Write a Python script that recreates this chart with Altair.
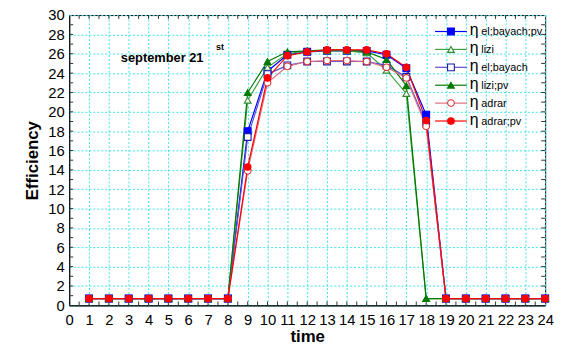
import altair as alt
import pandas as pd

hours = [1, 2, 3, 4, 5, 6, 7, 8, 9, 10, 11, 12, 13, 14, 15, 16, 17, 18, 19, 20, 21, 22, 23, 24]

series_names = ["η el;bayach;pv", "η lizi", "η el;bayach", "η lizi;pv", "η adrar", "η adrar;pv"]
legend_symbol = ["η", "η", "η", "η", "η", "η"]
legend_subs = ["el;bayach;pv", "lizi", "el;bayach", "lizi;pv", "adrar", "adrar;pv"]

bayach_pv = [0.7, 0.7, 0.7, 0.7, 0.7, 0.7, 0.7, 0.7, 18.0, 24.2, 25.9, 26.2, 26.3, 26.3, 26.3, 25.9, 24.5, 19.7, 0.7, 0.7, 0.7, 0.7, 0.7, 0.7]
lizi = [0.7, 0.7, 0.7, 0.7, 0.7, 0.7, 0.7, 0.7, 21.2, 24.6, 26.0, 26.3, 26.3, 26.3, 26.1, 24.3, 21.9, 0.7, 0.7, 0.7, 0.7, 0.7, 0.7, 0.7]
bayach = [0.7, 0.7, 0.7, 0.7, 0.7, 0.7, 0.7, 0.7, 17.4, 23.9, 24.8, 25.2, 25.2, 25.2, 25.2, 24.8, 23.6, 18.8, 0.7, 0.7, 0.7, 0.7, 0.7, 0.7]
lizi_pv = [0.7, 0.7, 0.7, 0.7, 0.7, 0.7, 0.7, 0.7, 22.0, 25.2, 26.2, 26.3, 26.4, 26.4, 26.2, 25.4, 22.7, 0.7, 0.7, 0.7, 0.7, 0.7, 0.7, 0.7]
adrar = [0.7, 0.7, 0.7, 0.7, 0.7, 0.7, 0.7, 0.7, 13.9, 23.0, 24.7, 25.2, 25.3, 25.3, 25.2, 24.6, 23.5, 18.5, 0.7, 0.7, 0.7, 0.7, 0.7, 0.7]
adrar_pv = [0.7, 0.7, 0.7, 0.7, 0.7, 0.7, 0.7, 0.7, 14.3, 23.5, 25.8, 26.2, 26.4, 26.4, 26.4, 26.0, 24.6, 19.1, 0.7, 0.7, 0.7, 0.7, 0.7, 0.7]

x_ticks = [0, 1, 2, 3, 4, 5, 6, 7, 8, 9, 10, 11, 12, 13, 14, 15, 16, 17, 18, 19, 20, 21, 22, 23, 24]
y_ticks = [0, 2, 4, 6, 8, 10, 12, 14, 16, 18, 20, 22, 24, 26, 28, 30]
x_minor_ticks = [i / 2 for i in range(1, 48)]
y_minor_ticks = list(range(1, 30))

annotation_text = ["september 21"]
annotation_sup = ["st"]

line_colors = ["#0000ff", "#3f9f3f", "#5a4ed0", "#007a00", "#e07080", "#ff0000"]
stroke_colors = ["#0000ff", "#2e8b2e", "#1a1aa8", "#007a00", "#e03030", "#ff0000"]
fill_colors = ["#0000ff", "#ffffff", "#ffffff", "#007a00", "#ffffff", "#ff0000"]
marker_shapes = ["square", "triangle-up", "square", "triangle-up", "circle", "circle"]
marker_sizes = [48, 45, 42, 45, 30, 30]

rows = []
for name, vals in zip(series_names, [bayach_pv, lizi, bayach, lizi_pv, adrar, adrar_pv]):
    for h, v in zip(hours, vals):
        rows.append({"hour": h, "eff": v, "series": name})
df = pd.DataFrame(rows)

legend_df = pd.DataFrame({
    "series": series_names,
    "idx": list(range(len(series_names))),
    "sym": legend_symbol,
    "sub": legend_subs,
})

FONT = "Liberation Sans"

x_scale = alt.Scale(domain=[0, 24], nice=False)
y_scale = alt.Scale(domain=[0, 30], nice=False)
x_axis = alt.Axis(values=x_ticks, title="time", labelPadding=7, titlePadding=2, format="d")
y_axis = alt.Axis(values=y_ticks, title="Efficiency", labelPadding=5, titlePadding=6, format="d")

x = alt.X("hour:Q", scale=x_scale, axis=x_axis)
y = alt.Y("eff:Q", scale=y_scale, axis=y_axis)

color_enc = alt.Color("series:N", scale=alt.Scale(domain=series_names, range=line_colors), legend=None)
shape_enc = alt.Shape("series:N", scale=alt.Scale(domain=series_names, range=marker_shapes), legend=None)
fill_enc = alt.Fill("series:N", scale=alt.Scale(domain=series_names, range=fill_colors), legend=None)
stroke_enc = alt.Stroke("series:N", scale=alt.Scale(domain=series_names, range=stroke_colors), legend=None)
size_enc = alt.Size("series:N", scale=alt.Scale(domain=series_names, range=marker_sizes), legend=None)

# small inward ticks on the four sides of the frame
xt_df = pd.DataFrame({"t": x_minor_ticks})
yt_df = pd.DataFrame({"t": y_minor_ticks})
tick_style = dict(color="#333333", strokeWidth=1)
ticks_bottom = alt.Chart(xt_df).mark_rule(**tick_style).encode(
    x=alt.X("t:Q", scale=x_scale, axis=x_axis),
    y=alt.YDatum(0, type="quantitative", scale=y_scale, axis=y_axis),
    y2=alt.Y2Datum(0.4),
)
ticks_top = alt.Chart(xt_df).mark_rule(**tick_style).encode(
    x=alt.X("t:Q", scale=x_scale, axis=x_axis),
    y=alt.YDatum(30, type="quantitative", scale=y_scale, axis=y_axis),
    y2=alt.Y2Datum(29.6),
)
ticks_left = alt.Chart(yt_df).mark_rule(**tick_style).encode(
    y=alt.Y("t:Q", scale=y_scale, axis=y_axis),
    x=alt.XDatum(0, type="quantitative", scale=x_scale, axis=x_axis),
    x2=alt.X2Datum(0.2),
)
ticks_right = alt.Chart(yt_df).mark_rule(**tick_style).encode(
    y=alt.Y("t:Q", scale=y_scale, axis=y_axis),
    x=alt.XDatum(24, type="quantitative", scale=x_scale, axis=x_axis),
    x2=alt.X2Datum(23.8),
)

lines = alt.Chart(df).mark_line(strokeWidth=1.2).encode(
    x=x, y=y, color=color_enc, order="hour:Q"
)

points = alt.Chart(df).mark_point(filled=True, opacity=1, strokeWidth=1.1).encode(
    x=x, y=y, shape=shape_enc, fill=fill_enc, stroke=stroke_enc, size=size_enc
)

# hand-made legend in the upper right corner, rows laid out from the series index
legend_base = alt.Chart(legend_df).transform_calculate(
    ly="28.3 - datum.idx * 1.85",
    lx1="18.45",
    lx2="20.05",
    lm="19.25",
    lt="20.2",
    ls="20.78",
)
legend_lines = legend_base.mark_rule(strokeWidth=1.2).encode(
    x=alt.X("lx1:Q", scale=x_scale, axis=x_axis),
    x2="lx2:Q",
    y=alt.Y("ly:Q", scale=y_scale, axis=y_axis),
    color=color_enc,
)
legend_points = legend_base.mark_point(filled=True, opacity=1, strokeWidth=1.1).encode(
    x=alt.X("lm:Q", scale=x_scale, axis=x_axis),
    y=alt.Y("ly:Q", scale=y_scale, axis=y_axis),
    shape=shape_enc, fill=fill_enc, stroke=stroke_enc, size=size_enc,
)
legend_eta = legend_base.mark_text(
    align="left", baseline="middle", font=FONT, fontSize=16, color="black", dy=-1
).encode(
    x=alt.X("lt:Q", scale=x_scale, axis=x_axis),
    y=alt.Y("ly:Q", scale=y_scale, axis=y_axis),
    text="sym:N",
)
legend_sub = legend_base.mark_text(
    align="left", baseline="middle", font=FONT, fontSize=11, color="black", dy=1
).encode(
    x=alt.X("ls:Q", scale=x_scale, axis=x_axis),
    y=alt.Y("ly:Q", scale=y_scale, axis=y_axis),
    text="sub:N",
)

ann = (
    alt.Chart(pd.DataFrame({"label": annotation_text}))
    .mark_text(align="left", baseline="middle", font=FONT, fontSize=13, fontWeight="bold", color="black")
    .encode(
        x=alt.XDatum(2.6, type="quantitative", scale=x_scale, axis=x_axis),
        y=alt.YDatum(25.6, type="quantitative", scale=y_scale, axis=y_axis),
        text="label:N",
    )
)
ann_sup = (
    alt.Chart(pd.DataFrame({"label": annotation_sup}))
    .mark_text(align="left", baseline="middle", font=FONT, fontSize=9, fontWeight="bold", color="black")
    .encode(
        x=alt.XDatum(7.4, type="quantitative", scale=x_scale, axis=x_axis),
        y=alt.YDatum(26.7, type="quantitative", scale=y_scale, axis=y_axis),
        text="label:N",
    )
)

chart = (
    alt.layer(
        ticks_bottom, ticks_top, ticks_left, ticks_right,
        lines, points, legend_lines, legend_points, legend_eta, legend_sub, ann, ann_sup,
    )
    .properties(
        width=482,
        height=294,
        autosize=alt.AutoSizeParams(type="none"),
        padding={"left": 62, "top": 5, "right": 12, "bottom": 38},
    )
    .configure_view(stroke="black", strokeWidth=1)
    .configure_axis(
        grid=True,
        gridColor="#3fe3ea",
        gridDash=[2, 2],
        gridWidth=1,
        labelFont=FONT,
        labelFontSize=15,
        labelColor="black",
        labelOverlap=False,
        labelFlush=False,
        labelBound=False,
        titleFont=FONT,
        titleFontSize=17,
        titleFontWeight="bold",
        titleColor="black",
        domainColor="black",
        ticks=False,
    )
)

chart.save("out.html", embed_options={"renderer": "svg", "actions": False})
